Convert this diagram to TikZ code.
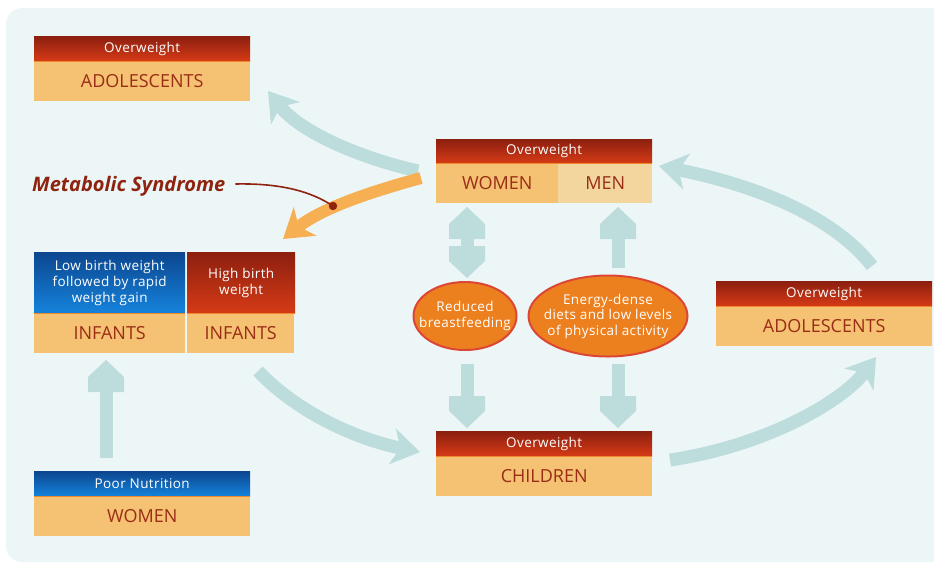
\documentclass[tikz,border=0pt]{standalone}
\usepackage{fontspec}
\setmainfont{Open Sans}
\newfontfamily\spfont[LetterSpace=3]{Open Sans}
\usetikzlibrary{arrows.meta,shapes.geometric,calc}
\definecolor{bgc}{HTML}{EDF6F7}
\definecolor{tealc}{HTML}{BDDCDC}
\definecolor{orarrow}{HTML}{F6AF52}
\definecolor{bodyc}{HTML}{F5C172}
\definecolor{menc}{HTML}{F3D59E}
\definecolor{txtred}{HTML}{9A2D16}
\definecolor{rtop}{HTML}{8C1F0F}
\definecolor{rbot}{HTML}{D63B16}
\definecolor{btop}{HTML}{0C468F}
\definecolor{bbot}{HTML}{1583DC}
\definecolor{sepc}{HTML}{EE8A2C}
\definecolor{ello}{HTML}{EC801F}
\definecolor{ellr}{HTML}{D9421B}
\definecolor{ellb}{HTML}{DC4634}
\definecolor{metac}{HTML}{8E2310}
\pgfdeclarearrow{
  name=Penta,
  setup code={
    \pgfarrowssettipend{0pt}
    \pgfarrowssetbackend{-32pt}
    \pgfarrowssetlineend{-30pt}
    \pgfarrowshullpoint{0pt}{0pt}
    \pgfarrowshullpoint{-32pt}{18pt}
    \pgfarrowshullpoint{-32pt}{-18pt}
  },
  drawing code={
    \pgfpathmoveto{\pgfpoint{0pt}{0pt}}
    \pgfpathlineto{\pgfpoint{-17pt}{18pt}}
    \pgfpathlineto{\pgfpoint{-32pt}{18pt}}
    \pgfpathlineto{\pgfpoint{-32pt}{-18pt}}
    \pgfpathlineto{\pgfpoint{-17pt}{-18pt}}
    \pgfpathclose
    \pgfusepathqfill
  }
}
\begin{document}
\begin{tikzpicture}[x=1pt,y=-1pt,
  hdr/.style={anchor=north west, inner sep=0pt, text=white, font=\spfont\fontsize{13.5}{16}\selectfont,
    top color=rtop, bottom color=rbot, minimum height=25pt, align=center},
  bhdr/.style={hdr, top color=btop, bottom color=bbot},
  bodybox/.style={anchor=north west, inner sep=0pt, fill=bodyc, text=txtred,
    font=\fontsize{18}{20}\selectfont, minimum height=40pt},
  oval/.style={ellipse, draw=ellb, line width=2pt, top color=ello, middle color=ellr,
    bottom color=ello, text=white, font=\spfont\fontsize{13.5}{15.5}\selectfont, align=center,
    inner xsep=-14pt, inner ysep=-4pt},
  sepline/.style={draw=sepc, line width=1.5pt},
  flow/.style={draw=tealc, line width=13pt, -{Stealth[length=28pt,width=36pt,inset=8pt]}},
  straight/.style={draw=tealc, line width=13pt, -Penta},
  dstraight/.style={draw=tealc, line width=13pt, Penta-Penta},
]
\useasboundingbox (0,0) rectangle (934,563);
\fill[bgc, rounded corners=16pt] (6,8) rectangle (980,562);

% boxes
\node[hdr, minimum width=216pt] (adlLh) at (34,36) {Overweight};
\node[bodybox, minimum width=216pt] (adlLb) at (34,61) {ADOLESCENTS};
\draw[sepline] (adlLh.south west) -- (adlLh.south east);

\node[hdr, minimum width=216pt, minimum height=24pt] (wmh) at (436,139) {Overweight};
\node[bodybox, minimum width=122pt, minimum height=40pt] (womb) at (436,163) {WOMEN};
\node[bodybox, fill=menc, minimum width=94pt, minimum height=40pt] (menb) at (558,163) {MEN};
\draw[sepline] (wmh.south west) -- (wmh.south east);

\node[bhdr, minimum width=151pt, minimum height=61pt] (lbwh) at (34,252) {Low birth weight\\followed by rapid\\weight gain};
\node[bodybox, minimum width=151pt] (lbwb) at (34,313) {INFANTS};
\draw[sepline] (lbwh.south west) -- (lbwh.south east);

\node[hdr, minimum width=108pt, minimum height=61pt] (hbwh) at (187,252) {High birth\\weight};
\node[bodybox, minimum width=107pt] (hbwb) at (187,313) {INFANTS};
\draw[sepline] (hbwh.south west) -- (hbwh.south east);

\node[bhdr, minimum width=216pt] (pnh) at (34,471) {Poor Nutrition};
\node[bodybox, minimum width=216pt] (pnb) at (34,496) {WOMEN};
\draw[sepline] (pnh.south west) -- (pnh.south east);

\node[hdr, minimum width=216pt] (chh) at (436,431) {Overweight};
\node[bodybox, minimum width=216pt] (chb) at (436,456) {CHILDREN};
\draw[sepline] (chh.south west) -- (chh.south east);

\node[hdr, minimum width=216pt] (adlRh) at (716,281) {Overweight};
\node[bodybox, minimum width=216pt] (adlRb) at (716,306) {ADOLESCENTS};
\draw[sepline] (adlRh.south west) -- (adlRh.south east);

% ovals
\node[oval, minimum width=103pt, minimum height=68pt] (rbf) at (465,316) {Reduced\\breastfeeding};
\node[oval, minimum width=159pt, minimum height=81pt] (edd) at (608,316) {Energy-dense\\diets and low levels\\of physical activity};

% connector end points
\coordinate (t1s) at (418,171);  \coordinate (t1e) at (268,91);
\coordinate (o1s) at (421,178);  \coordinate (o1e) at (283,239);
\coordinate (t2s) at (258,371);  \coordinate (t2e) at (420,452);
\coordinate (t3s) at (670,460);  \coordinate (t3e) at (876,357);
\coordinate (t4s) at (872,266);  \coordinate (t4e) at (659,166);
\coordinate (u1s) at (106,458);  \coordinate (u1e) at (106,360);
\coordinate (d1a) at (467,278);  \coordinate (d1b) at (467,207);
\coordinate (u2s) at (618,268);  \coordinate (u2e) at (618,207);
\coordinate (d2s) at (467,364);  \coordinate (d2e) at (467,428);
\coordinate (d3s) at (618,364);  \coordinate (d3e) at (618,428);

% teal arrows
\draw[flow] (t1s) .. controls (360,158) and (300,132) .. (t1e);
\draw[flow] (t2s) .. controls (300,415) and (360,440) .. (t2e);
\draw[flow] (t3s) .. controls (765,446) and (842,402) .. (t3e);
\draw[flow] (t4s) .. controls (830,212) and (745,183) .. (t4e);
\draw[straight] (u1s) -- (u1e);
\draw[dstraight] (d1a) -- (d1b);
\draw[straight] (u2s) -- (u2e);
\draw[straight] (d2s) -- (d2e);
\draw[straight] (d3s) -- (d3e);

% orange arrow
\draw[draw=orarrow, line width=12pt, -{Stealth[length=28pt,width=36pt,inset=8pt]}]
  (o1s) .. controls (370,192) and (322,208) .. (o1e);

% metabolic syndrome
\node[anchor=west, inner sep=0pt, text=metac, font=\fontsize{20}{22}\selectfont\bfseries\itshape] (meta) at (32,186) {Metabolic Syndrome};
\coordinate (mdot) at (333,206);
\draw[metac, line width=1.6pt] ($(meta.east)+(10,-2)$) .. controls (282,183) and (312,192) .. (mdot);
\fill[metac] (mdot) circle (4.2pt);
\end{tikzpicture}
\end{document}
